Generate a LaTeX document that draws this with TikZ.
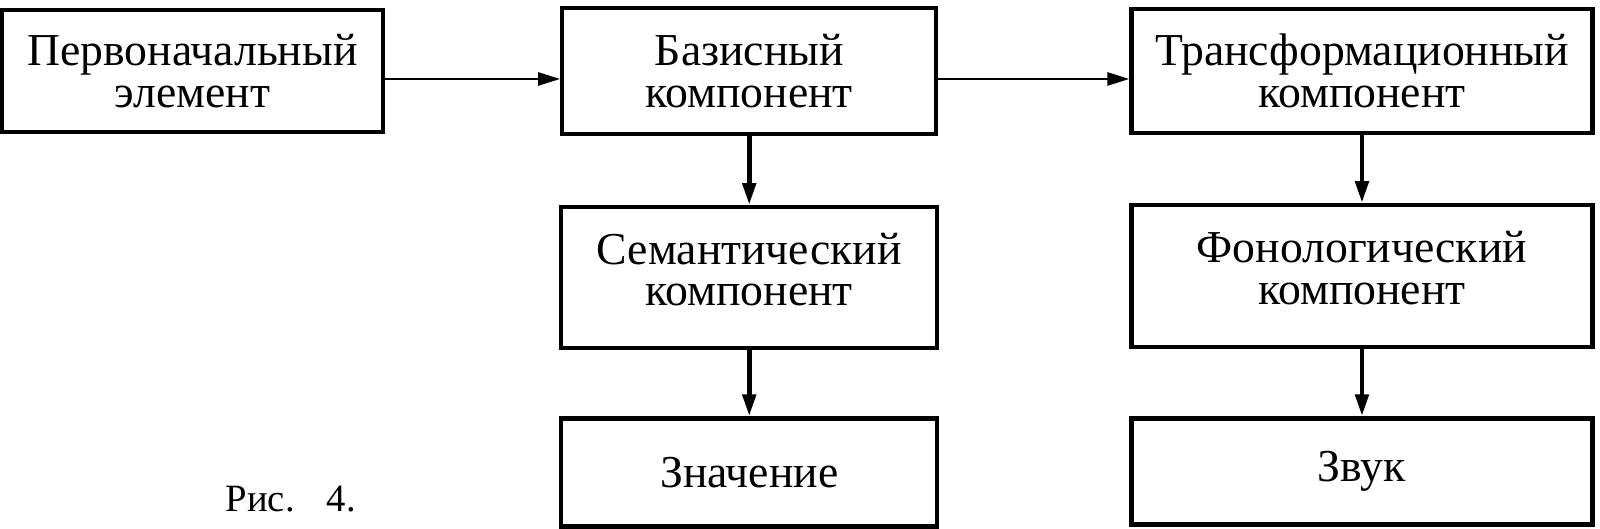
\documentclass[tikz,border=0pt]{standalone}
\usepackage{fontspec}
\setmainfont{Liberation Serif}
\usepackage{tikz}
\tikzset{node distance=0.7cm, auto}
\usetikzlibrary{positioning}
\usetikzlibrary{arrows.meta}
\tikzset{box/.style={draw, line width=1.2pt, align=center, inner sep=2pt,
    font=\fontsize{13}{11.8}\selectfont},
  >={Triangle[length=0.22cm, width=0.13cm]}}

\begin{document}
\begin{tikzpicture}
   \useasboundingbox (0,0) rectangle (16,5.29);
   \node(1) [box, minimum width=3.81cm, minimum height=1.22cm] at (1.925,4.58) {Первоначальный\\элемент};
   \node(2) [box, right=1.75cm of 1, minimum width=3.74cm, minimum height=1.26cm] {Базисный\\компонент};
   \node(3) [box, right=1.91cm of 2, minimum width=4.61cm, minimum height=1.24cm] {Трансформационный\\компонент};
   \node(4) [box, below=0.69cm of 2, minimum width=3.76cm, minimum height=1.41cm, text depth=0.17cm] {Семантический\\компонент};
   \node(5) [box, below=0.68cm of 3, minimum width=4.61cm, minimum height=1.42cm, text depth=0.17cm] {Фонологический\\компонент};
   \node(6) [box, below=0.66cm of 4, minimum width=3.76cm, minimum height=1.08cm] {Значение};
   \node(7) [box, below=0.67cm of 5, minimum width=4.61cm, minimum height=1.06cm] {Звук};
   \node(8) [anchor=base west, inner sep=0pt, font=\fontsize{11}{11}\selectfont] at (2.25,0.17) {Рис.\hspace{0.32cm}4.};
   \draw[->, line width=0.75pt] ([yshift=-0.08cm]1.east) -- ([yshift=-0.08cm]1.east -| 2.west);
   \draw[->, line width=0.75pt] ([yshift=-0.08cm]2.east) -- ([yshift=-0.08cm]2.east -| 3.west);
   \draw[->, line width=1.4pt] (2) -- (4);
   \draw[->, line width=1.4pt] (4) -- (6);
   \draw[->, line width=1.4pt] (3) -- (5);
   \draw[->, line width=1.4pt] (5) -- (7);
\end{tikzpicture}
\end{document}
